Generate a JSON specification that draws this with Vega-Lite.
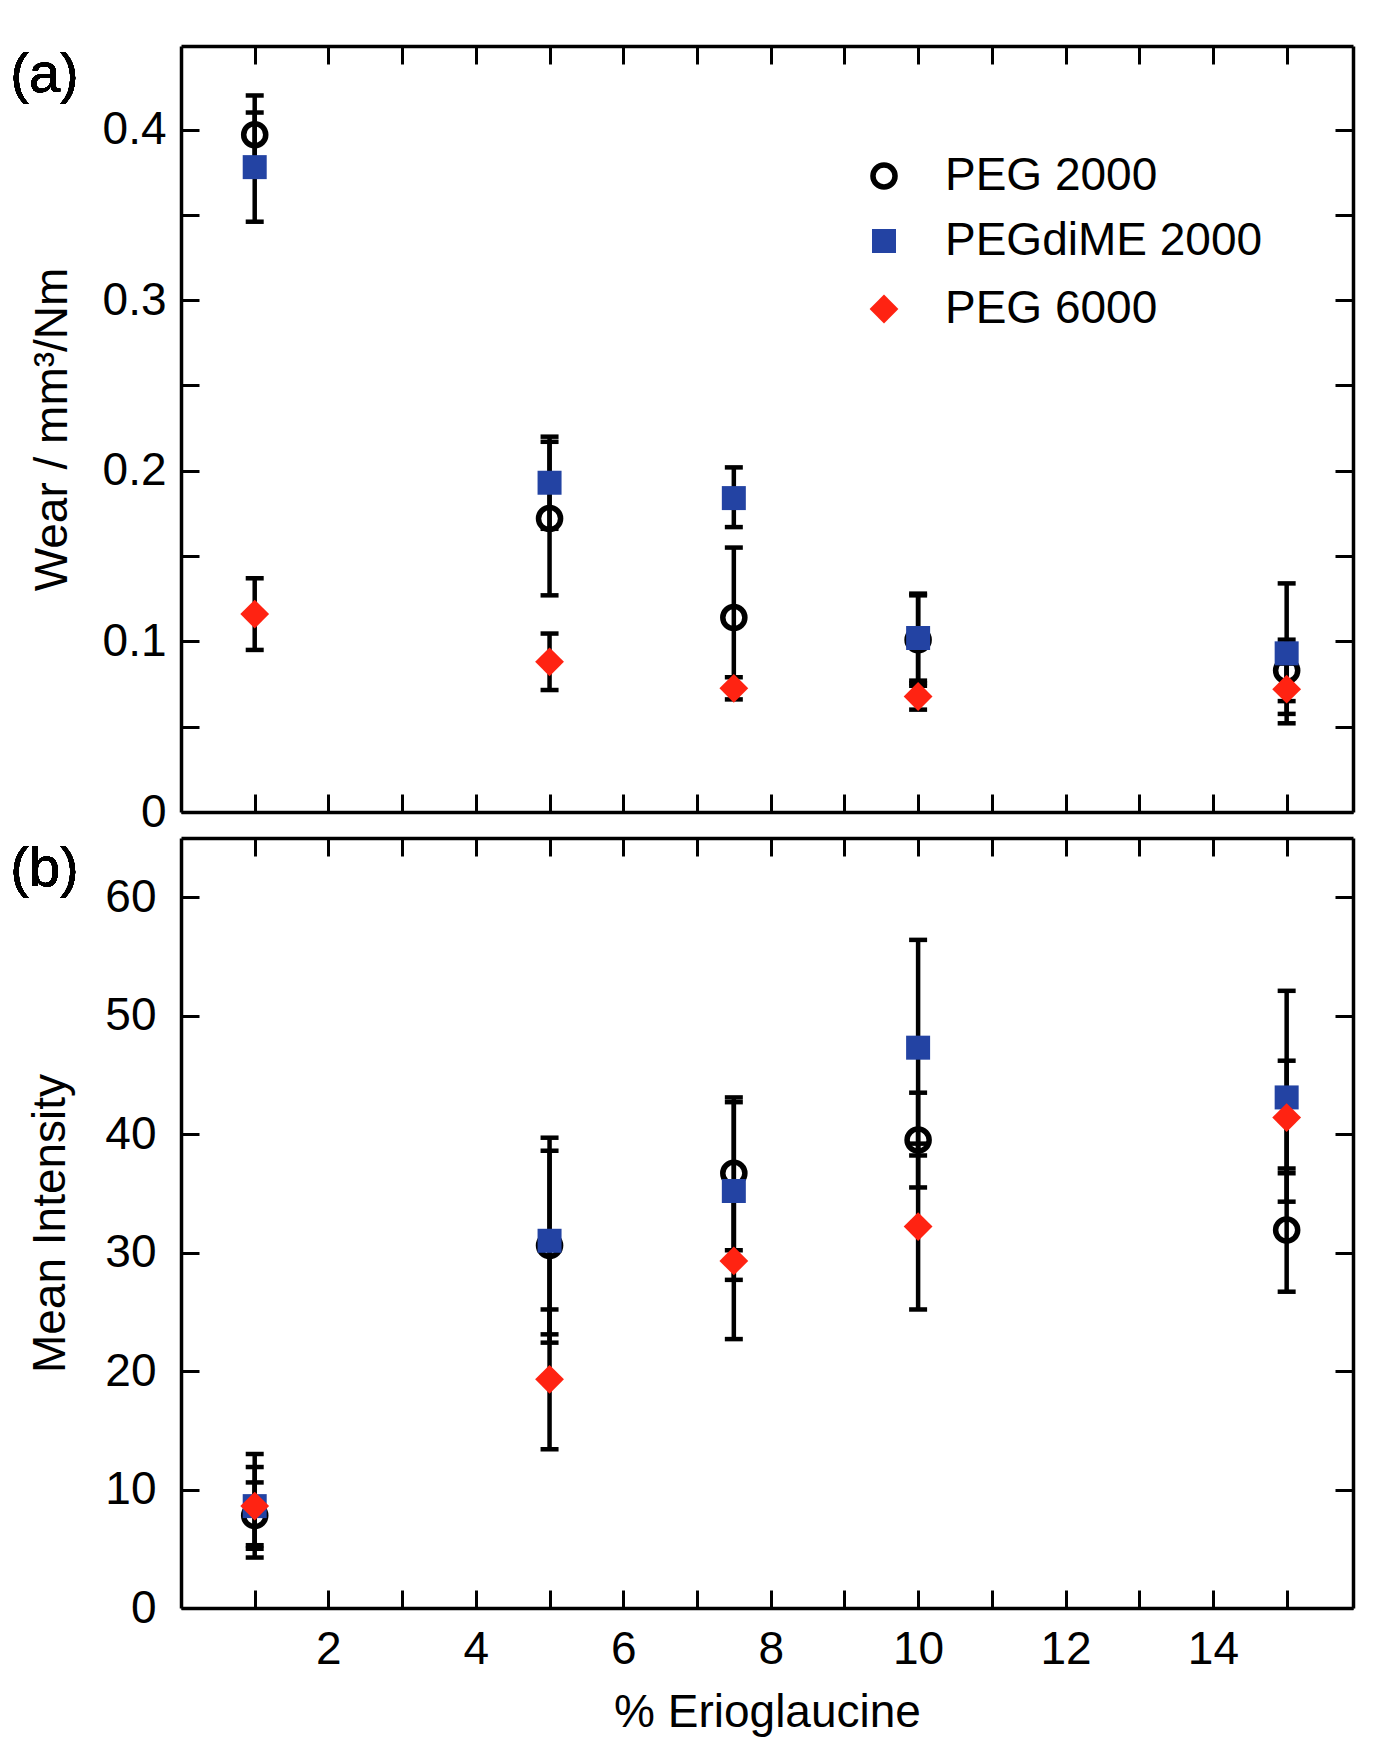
{
  "$schema": "https://vega.github.io/schema/vega-lite/v6.json",
  "background": "white",
  "padding": {"left": 10, "top": 44, "right": 20, "bottom": 10},
  "datasets": {
    "wear": [
      {"panel": "a", "pct": 1, "series": "PEG 2000", "val": 0.397, "lo": 0.374, "hi": 0.42},
      {"panel": "a", "pct": 5, "series": "PEG 2000", "val": 0.172, "lo": 0.127, "hi": 0.217},
      {"panel": "a", "pct": 7.5, "series": "PEG 2000", "val": 0.114, "lo": 0.074, "hi": 0.155},
      {"panel": "a", "pct": 10, "series": "PEG 2000", "val": 0.101, "lo": 0.074, "hi": 0.128},
      {"panel": "a", "pct": 15, "series": "PEG 2000", "val": 0.083, "lo": 0.065, "hi": 0.101},
      {"panel": "a", "pct": 1, "series": "PEGdiME 2000", "val": 0.378, "lo": 0.346, "hi": 0.41},
      {"panel": "a", "pct": 5, "series": "PEGdiME 2000", "val": 0.193, "lo": 0.166, "hi": 0.22},
      {"panel": "a", "pct": 7.5, "series": "PEGdiME 2000", "val": 0.184, "lo": 0.167, "hi": 0.202},
      {"panel": "a", "pct": 10, "series": "PEGdiME 2000", "val": 0.102, "lo": 0.077, "hi": 0.127},
      {"panel": "a", "pct": 15, "series": "PEGdiME 2000", "val": 0.093, "lo": 0.052, "hi": 0.134},
      {"panel": "a", "pct": 1, "series": "PEG 6000", "val": 0.116, "lo": 0.095, "hi": 0.137},
      {"panel": "a", "pct": 5, "series": "PEG 6000", "val": 0.088, "lo": 0.0715, "hi": 0.1046},
      {"panel": "a", "pct": 7.5, "series": "PEG 6000", "val": 0.0725, "lo": 0.066, "hi": 0.079},
      {"panel": "a", "pct": 10, "series": "PEG 6000", "val": 0.0677, "lo": 0.06, "hi": 0.0755},
      {"panel": "a", "pct": 15, "series": "PEG 6000", "val": 0.072, "lo": 0.0575, "hi": 0.087},
      {"panel": "b", "pct": 1, "series": "PEG 2000", "val": 7.8, "lo": 5.0, "hi": 10.6},
      {"panel": "b", "pct": 5, "series": "PEG 2000", "val": 30.6, "lo": 23.1, "hi": 38.6},
      {"panel": "b", "pct": 7.5, "series": "PEG 2000", "val": 36.7, "lo": 30.2, "hi": 43.1},
      {"panel": "b", "pct": 10, "series": "PEG 2000", "val": 39.5, "lo": 35.5, "hi": 43.5},
      {"panel": "b", "pct": 15, "series": "PEG 2000", "val": 31.9, "lo": 26.7, "hi": 37.1},
      {"panel": "b", "pct": 1, "series": "PEGdiME 2000", "val": 8.6, "lo": 4.26, "hi": 13.0},
      {"panel": "b", "pct": 5, "series": "PEGdiME 2000", "val": 31.0, "lo": 22.4, "hi": 39.7},
      {"panel": "b", "pct": 7.5, "series": "PEGdiME 2000", "val": 35.2, "lo": 27.7, "hi": 42.7},
      {"panel": "b", "pct": 10, "series": "PEGdiME 2000", "val": 47.3, "lo": 38.2, "hi": 56.4},
      {"panel": "b", "pct": 15, "series": "PEGdiME 2000", "val": 43.1, "lo": 34.3, "hi": 52.1},
      {"panel": "b", "pct": 1, "series": "PEG 6000", "val": 8.6, "lo": 5.3, "hi": 11.9},
      {"panel": "b", "pct": 5, "series": "PEG 6000", "val": 19.3, "lo": 13.4, "hi": 25.2},
      {"panel": "b", "pct": 7.5, "series": "PEG 6000", "val": 29.3, "lo": 22.7, "hi": 35.9},
      {"panel": "b", "pct": 10, "series": "PEG 6000", "val": 32.2, "lo": 25.2, "hi": 39.2},
      {"panel": "b", "pct": 15, "series": "PEG 6000", "val": 41.4, "lo": 36.7, "hi": 46.2}
    ]
  },
  "spacing": 26,
  "bounds": "flush",
  "resolve": {
    "legend": {"shape": "independent", "fill": "independent", "stroke": "independent"}
  },
  "vconcat": [
    {
      "width": 1172,
      "height": 766,
      "data": {"name": "wear"},
      "transform": [{"filter": "datum.panel == 'a'"}],
      "resolve": {"axis": {"x": "independent", "y": "independent"}},
      "layer": [
        {
          "mark": {
            "type": "errorbar",
            "ticks": {"size": 18, "thickness": 4.5, "color": "black", "opacity": 1},
            "rule": {"strokeWidth": 4.5, "color": "black"}
          },
          "encoding": {
            "x": {
              "field": "pct",
              "type": "quantitative",
              "scale": {"domain": [0, 15.9], "nice": false, "zero": false},
              "axis": {"orient": "bottom", "values": [1, 2, 3, 4, 5, 6, 7, 8, 9, 10, 11, 12, 13, 14, 15], "labels": false, "title": null}
            },
            "y": {
              "field": "lo",
              "type": "quantitative",
              "scale": {"domain": [0, 0.449], "nice": false},
              "axis": {
                "orient": "left",
                "values": [0, 0.05, 0.1, 0.15, 0.2, 0.25, 0.3, 0.35, 0.4],
                "format": "~g",
                "labelExpr": "round(datum.value * 100) % 10 == 0 ? datum.label : ''",
                "labelPadding": 33,
                "title": "Wear / mm³/Nm",
                "titlePadding": 26
              }
            },
            "y2": {"field": "hi"}
          }
        },
        {
          "mark": {"type": "point", "filled": true, "opacity": 1, "strokeWidth": 5.5, "size": 576},
          "encoding": {
            "x": {
              "field": "pct",
              "type": "quantitative",
              "axis": {"orient": "top", "values": [1, 2, 3, 4, 5, 6, 7, 8, 9, 10, 11, 12, 13, 14, 15], "labels": false, "title": null}
            },
            "y": {
              "field": "val",
              "type": "quantitative",
              "axis": {"orient": "right", "values": [0, 0.05, 0.1, 0.15, 0.2, 0.25, 0.3, 0.35, 0.4], "labels": false, "title": null}
            },
            "shape": {
              "field": "series",
              "type": "nominal",
              "scale": {
                "domain": ["PEG 2000", "PEGdiME 2000", "PEG 6000"],
                "range": ["M0.92,0A0.92,0.92,0,1,1,-0.92,0A0.92,0.92,0,1,1,0.92,0Z", "square", "M-1.2,0L0,-1.2L1.2,0L0,1.2Z"]
              },
              "legend": {
                "orient": "none",
                "legendX": 680,
                "legendY": 107,
                "title": null,
                "padding": 0,
                "symbolSize": 576,
                "symbolStrokeWidth": 5.5,
                "labelFontSize": 46,
                "labelColor": "black",
                "labelFont": "Liberation Sans",
                "labelLimit": 600,
                "rowPadding": 19,
                "labelOffset": 38
              }
            },
            "fill": {
              "field": "series",
              "type": "nominal",
              "scale": {"domain": ["PEG 2000", "PEGdiME 2000", "PEG 6000"], "range": ["transparent", "#2343a3", "#ff2312"]}
            },
            "stroke": {
              "field": "series",
              "type": "nominal",
              "scale": {"domain": ["PEG 2000", "PEGdiME 2000", "PEG 6000"], "range": ["black", "transparent", "transparent"]}
            }
          }
        },
        {
          "mark": {"type": "text", "text": "(a)", "align": "left", "baseline": "alphabetic", "fontSize": 56, "color": "black"},
          "encoding": {
            "x": {"datum": -2.316, "type": "quantitative", "axis": null},
            "y": {"datum": 0.4219, "type": "quantitative", "axis": null}
          }
        }
      ]
    },
    {
      "width": 1172,
      "height": 770,
      "data": {"name": "wear"},
      "transform": [{"filter": "datum.panel == 'b'"}],
      "resolve": {"axis": {"x": "independent", "y": "independent"}},
      "layer": [
        {
          "mark": {
            "type": "errorbar",
            "ticks": {"size": 18, "thickness": 4.5, "color": "black", "opacity": 1},
            "rule": {"strokeWidth": 4.5, "color": "black"}
          },
          "encoding": {
            "x": {
              "field": "pct",
              "type": "quantitative",
              "scale": {"domain": [0, 15.9], "nice": false, "zero": false},
              "axis": {
                "orient": "bottom",
                "values": [1, 2, 3, 4, 5, 6, 7, 8, 9, 10, 11, 12, 13, 14, 15],
                "labelExpr": "datum.value % 2 == 0 ? datum.label : ''",
                "labelPadding": 37,
                "title": "% Erioglaucine",
                "titlePadding": 18
              }
            },
            "y": {
              "field": "lo",
              "type": "quantitative",
              "scale": {"domain": [0, 65], "nice": false},
              "axis": {
                "orient": "left",
                "values": [0, 10, 20, 30, 40, 50, 60],
                "labelPadding": 43,
                "title": "Mean Intensity",
                "titlePadding": 30
              }
            },
            "y2": {"field": "hi"}
          }
        },
        {
          "mark": {"type": "point", "filled": true, "opacity": 1, "strokeWidth": 5.5, "size": 576},
          "encoding": {
            "x": {
              "field": "pct",
              "type": "quantitative",
              "axis": {"orient": "top", "values": [1, 2, 3, 4, 5, 6, 7, 8, 9, 10, 11, 12, 13, 14, 15], "labels": false, "title": null}
            },
            "y": {
              "field": "val",
              "type": "quantitative",
              "axis": {"orient": "right", "values": [0, 10, 20, 30, 40, 50, 60], "labels": false, "title": null}
            },
            "shape": {
              "field": "series",
              "type": "nominal",
              "scale": {
                "domain": ["PEG 2000", "PEGdiME 2000", "PEG 6000"],
                "range": ["M0.92,0A0.92,0.92,0,1,1,-0.92,0A0.92,0.92,0,1,1,0.92,0Z", "square", "M-1.2,0L0,-1.2L1.2,0L0,1.2Z"]
              },
              "legend": null
            },
            "fill": {
              "field": "series",
              "type": "nominal",
              "scale": {"domain": ["PEG 2000", "PEGdiME 2000", "PEG 6000"], "range": ["transparent", "#2343a3", "#ff2312"]},
              "legend": null
            },
            "stroke": {
              "field": "series",
              "type": "nominal",
              "scale": {"domain": ["PEG 2000", "PEGdiME 2000", "PEG 6000"], "range": ["black", "transparent", "transparent"]},
              "legend": null
            }
          }
        },
        {
          "mark": {"type": "text", "text": "(b)", "align": "left", "baseline": "alphabetic", "fontSize": 56, "color": "black"},
          "encoding": {
            "x": {"datum": -2.316, "type": "quantitative", "axis": null},
            "y": {"datum": 60.95, "type": "quantitative", "axis": null}
          }
        }
      ]
    }
  ],
  "config": {
    "font": "Liberation Sans",
    "view": {"stroke": null},
    "axis": {
      "grid": false,
      "domainColor": "black",
      "domainWidth": 3.5,
      "tickColor": "black",
      "tickWidth": 3,
      "tickSize": -18,
      "labelFont": "Liberation Sans",
      "labelFontSize": 46,
      "labelColor": "black",
      "labelFlush": false,
      "labelOverlap": false,
      "titleFont": "Liberation Sans",
      "titleFontSize": 46,
      "titleFontWeight": "normal",
      "titleColor": "black"
    }
  }
}
